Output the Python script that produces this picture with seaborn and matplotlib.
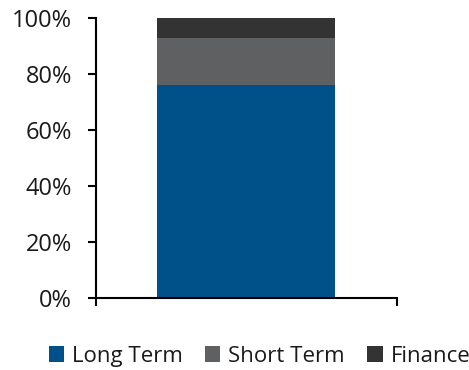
import matplotlib
matplotlib.use("Agg")
import matplotlib.pyplot as plt
from matplotlib.patches import Patch
from matplotlib.ticker import PercentFormatter
import seaborn as sns
import pandas as pd

# Share of total debt by type
segments = ["Long Term", "Short Term", "Finance"]
shares = [76, 17, 7]
colors = ["#00518A", "#5F6062", "#333333"]

sns.set_style("white")
plt.rcParams["font.family"] = ["Open Sans", "DejaVu Sans"]

fig = plt.figure(figsize=(4.69, 3.70), dpi=100)
ax = fig.add_axes([0.204, 0.194, 0.6425, 0.7565])

# Stack by overlaying cumulative totals, tallest first
cum = pd.Series(shares, index=segments).cumsum()
for seg, col in zip(reversed(segments), reversed(colors)):
    df = pd.DataFrame({"grp": [""], "value": [cum[seg]]})
    sns.barplot(data=df, x="grp", y="value", color=col, width=0.59,
                saturation=1, ax=ax, edgecolor="none", linewidth=0)

ax.set_xlim(-0.5, 0.5)
ax.set_ylim(0, 100)
ax.set_yticks(range(0, 101, 20))
ax.yaxis.set_major_formatter(PercentFormatter(decimals=0))
ax.set_xticks([-0.5, 0.5])
ax.set_xticklabels(["", ""])
ax.set_xlabel("")
ax.set_ylabel("")

for side in ["top", "right"]:
    ax.spines[side].set_visible(False)
for side in ["left", "bottom"]:
    ax.spines[side].set_color("black")
    ax.spines[side].set_linewidth(1.5)
ax.tick_params(axis="both", direction="out", length=6, width=1.5, color="black",
               left=True, bottom=True, labelsize=17, labelcolor="#1a1a1a")
ax.tick_params(axis="y", pad=11)

handles = [Patch(facecolor=c, edgecolor="none", label=s) for s, c in zip(segments, colors)]
fig.legend(handles=handles, loc="center", bbox_to_anchor=(0.553, 0.037), ncol=3,
           frameon=False, fontsize=16, handlelength=0.7, handleheight=0.7,
           handletextpad=0.35, columnspacing=1.0, labelcolor="#1a1a1a")

fig.savefig("out.png", dpi=100)
